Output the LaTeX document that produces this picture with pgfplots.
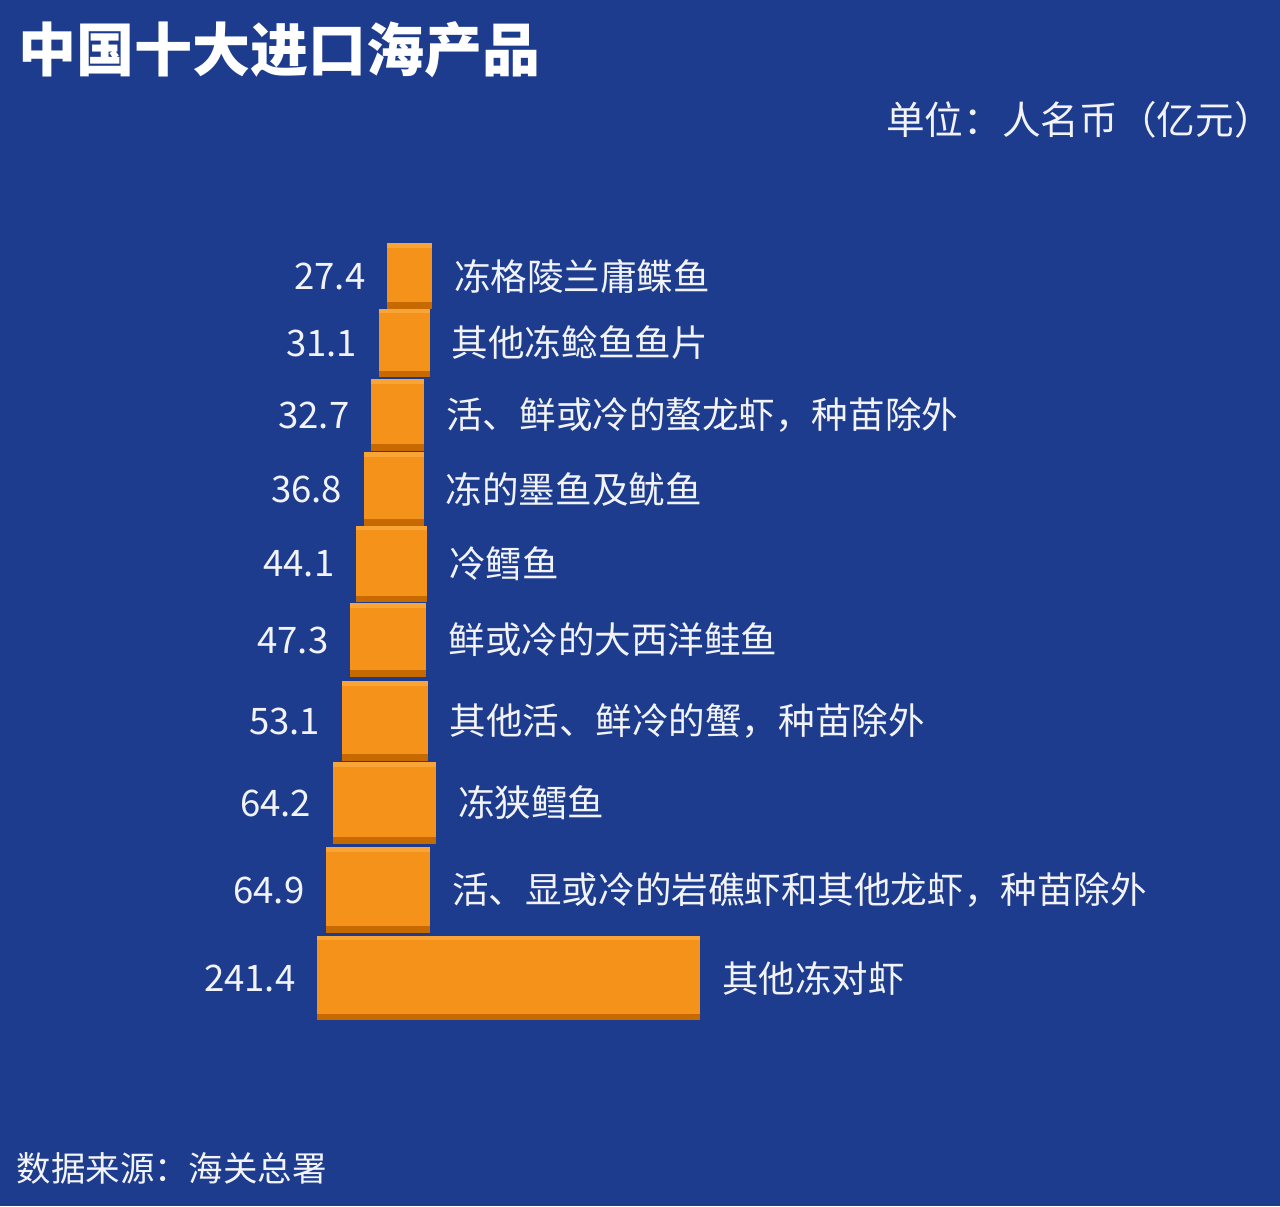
\documentclass[border=0pt]{standalone}
\usepackage{fontspec}
\setmainfont{Noto Sans CJK SC}
\usepackage{pgfplots}
\usepackage{pgfplotstable}
\pgfplotsset{compat=1.18}

\definecolor{bgblue}{HTML}{1E3C8E}
\definecolor{barorange}{HTML}{F4921A}
\definecolor{bardark}{HTML}{C66A00}
\definecolor{barlight}{HTML}{F8A436}
\definecolor{txtwhite}{HTML}{F1F3F8}

\newcommand\lblfont{\fontsize{10.4pt}{12pt}\selectfont}
\pgfdeclareplotmark{blank}{}

% y: bar centre (px from bottom), off: perspective shift, h: bar thickness (px)
\pgfplotstableread{
y    off   val    h   name
930  44.3  27.4   64  冻格陵兰庸鲽鱼
863  39.2  31.1   67  其他冻鲶鱼鱼片
791  34.2  32.7   70  活、鲜或冷的螯龙虾，种苗除外
717  29.7  36.8   72  冻的墨鱼及鱿鱼
642  24.7  44.1   75  冷鳕鱼
566  20.9  47.3   72  鲜或冷的大西洋鲑鱼
485  15.8  53.1   78  其他活、鲜冷的蟹，种苗除外
403  10.1  64.2   80  冻狭鳕鱼
316   5.7  64.9   84  活、显或冷的岩礁虾和其他龙虾，种苗除外
228   0.0  241.4  83  其他冻对虾
}\imports

\begin{document}
\begin{tikzpicture}
\fill[bgblue] (0,0) rectangle (12.8cm,12.06cm);
\begin{axis}[
  at={(0,0)}, anchor=south west,
  scale only axis, width=12.8cm, height=12.06cm,
  hide axis, clip=false,
  xmin=-201.27, xmax=608.86, ymin=0, ymax=1206,
  /pgf/number format/assume math mode=true,
]
\addplot[scatter, only marks, mark=blank,
  point meta=explicit symbolic,
  visualization depends on={\thisrow{val} \as \v},
  visualization depends on={0.5*\thisrow{h} \as \hh},
  scatter/@pre marker code/.code={%
    \fill[barorange] (axis direction cs:-\v,-\hh) rectangle (axis direction cs:0,\hh);
    \fill[barlight] (axis direction cs:-\v,\hh-3) rectangle (axis direction cs:0,\hh);
    \fill[bardark] (axis direction cs:-\v,-\hh) rectangle (axis direction cs:0,-\hh+5);
    \node[anchor=east, inner sep=0pt, xshift=-2.2mm, text=txtwhite, font=\lblfont]
      at (axis direction cs:-\v,0) {\pgfmathprintnumber[fixed,fixed zerofill,precision=1]{\v}};
    \node[anchor=west, inner sep=0pt, xshift=2.2mm, text=txtwhite, font=\lblfont]
      at (axis direction cs:0,0) {\pgfplotspointmeta};
  },
  scatter/@post marker code/.code={},
] table[x expr=\thisrow{off}+\thisrow{val}, y=y, meta=name] {\imports};

\node[anchor=west, inner sep=0pt, text=white, font=\bfseries\fontsize{16.5pt}{20pt}\selectfont]
  at (rel axis cs:0.014,0.9585) {中国十大进口海产品};
\node[anchor=east, inner sep=0pt, text=txtwhite, font=\fontsize{11pt}{13pt}\selectfont]
  at (rel axis cs:0.995,0.9005) {单位：人名币（亿元）};
\node[anchor=west, inner sep=0pt, text=txtwhite, font=\fontsize{9.8pt}{12pt}\selectfont]
  at (rel axis cs:0.0125,0.0315) {数据来源：海关总署};
\end{axis}
\end{tikzpicture}
\end{document}
